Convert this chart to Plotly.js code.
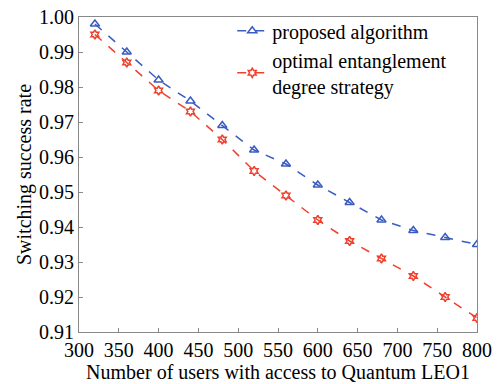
<!DOCTYPE html>
<html>
<head>
<meta charset="utf-8">
<script src="https://cdn.plot.ly/plotly-3.0.1.min.js"></script>
<style>
html,body{margin:0;padding:0;background:#fff;}
#chart{width:502px;height:384px;}
</style>
</head>
<body>
<div id="chart"></div>
<script>
var users = [320, 360, 400, 440, 480, 520, 560, 600, 640, 680, 720, 760, 800];
var proposed = [0.998, 0.990, 0.982, 0.976, 0.969, 0.962, 0.958, 0.952, 0.947, 0.942, 0.939, 0.937, 0.935];
var optimal = [0.995, 0.987, 0.979, 0.973, 0.965, 0.956, 0.949, 0.942, 0.936, 0.931, 0.926, 0.920, 0.914];
var xTicks = [300, 350, 400, 450, 500, 550, 600, 650, 700, 750, 800];
var yTicks = [0.91, 0.92, 0.93, 0.94, 0.95, 0.96, 0.97, 0.98, 0.99, 1.00];

var fam = 'Liberation Serif';
var fs = 20;
var traces = [
  {x: users, y: proposed, name: 'proposed algorithm', mode: 'lines+markers', type: 'scatter',
   line: {color: '#3a5cc0', width: 1.5, dash: 'dash'},
   marker: {symbol: 'triangle-up-open', size: 8, color: '#3a5cc0', line: {width: 1.5, color: '#3a5cc0'}}},
  {x: users, y: optimal, name: 'optimal entanglement<br>degree strategy', mode: 'lines+markers', type: 'scatter',
   line: {color: '#f0402e', width: 1.5, dash: 'dash'},
   marker: {symbol: 'hexagram-open', size: 7, color: '#f0402e', line: {width: 1.5, color: '#f0402e'}}}
];
var layout = {
  width: 502, height: 384,
  margin: {l: 79, r: 25, t: 16, b: 52},
  paper_bgcolor: '#fff', plot_bgcolor: '#fff',
  font: {family: fam, size: fs, color: '#000'},
  showlegend: true,
  legend: {x: 0.385, y: 1.015, xanchor: 'left', yanchor: 'top', bgcolor: 'rgba(0,0,0,0)',
           font: {family: fam, size: fs, color: '#000'}, tracegroupgap: 0, itemwidth: 30},
  xaxis: {range: [300, 800], tickvals: xTicks, ticktext: xTicks.map(String), ticks: 'inside', ticklen: 4,
          tickcolor: '#888', showgrid: false, zeroline: false, showline: true, linecolor: '#888', linewidth: 1,
          mirror: true, tickfont: {family: fam, size: fs, color: '#000'},
          title: {text: 'Number of users with access to Quantum LEO1', font: {family: fam, size: fs, color: '#000'}, standoff: 0}},
  yaxis: {range: [0.91, 1.00], tickvals: yTicks, ticktext: yTicks.map(function(v){return v.toFixed(2);}), ticks: 'inside', ticklen: 4,
          tickcolor: '#888', showgrid: false, zeroline: false, showline: true, linecolor: '#888', linewidth: 1,
          mirror: true, tickfont: {family: fam, size: fs, color: '#000'},
          title: {text: 'Switching success rate', font: {family: fam, size: fs, color: '#000'}, standoff: 2}}
};
Plotly.newPlot('chart', traces, layout, {displayModeBar: false, staticPlot: true});
</script>
</body>
</html>
